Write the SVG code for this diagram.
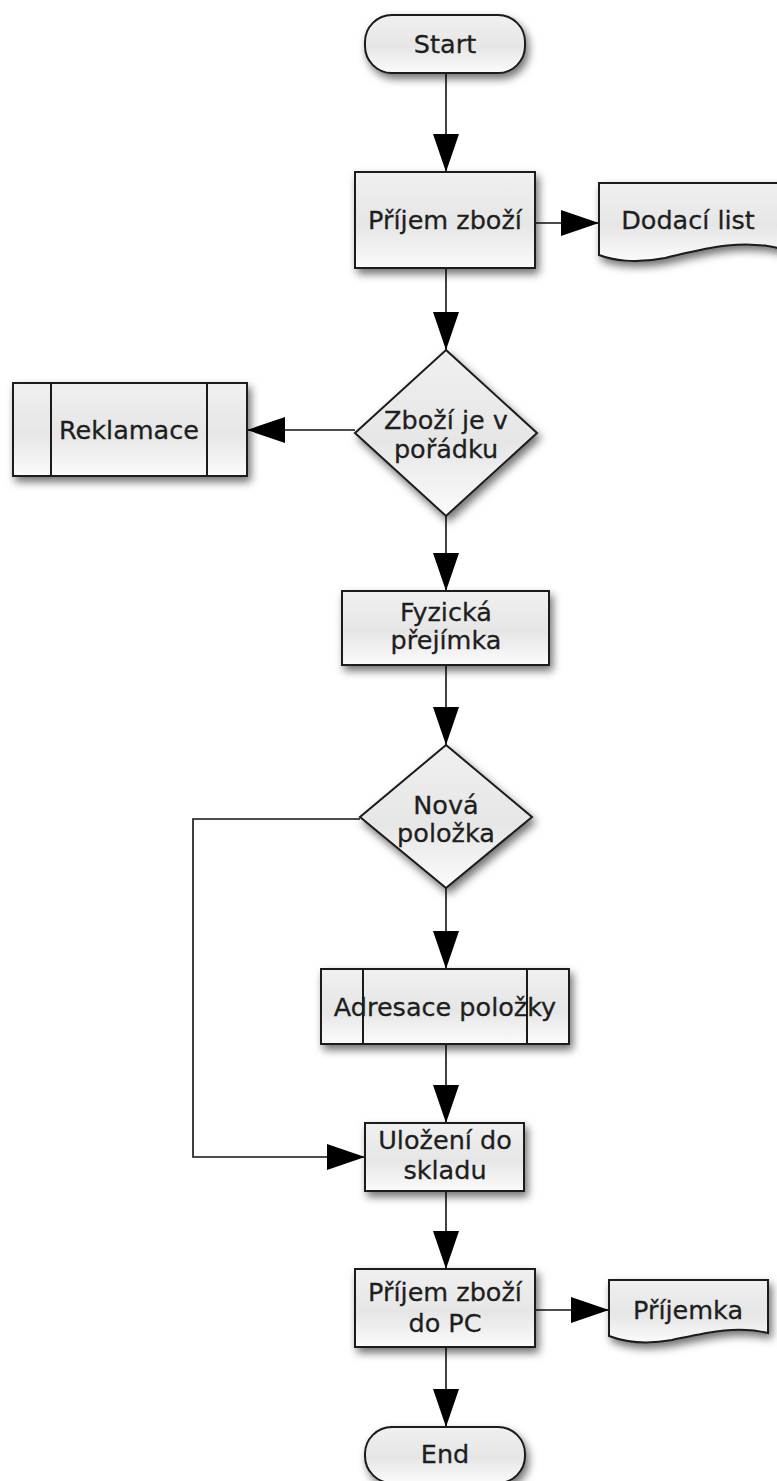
<svg xmlns="http://www.w3.org/2000/svg" width="777" height="1481" viewBox="0 0 777 1481">
  <style>
    .shape { fill: url(#fillGrad); stroke: #1a1a1a; stroke-width: 2; filter: url(#shadow); }
    .inner { stroke: #1a1a1a; stroke-width: 2; fill: none; }
    .label { font-family: "DejaVu Sans", "Noto Sans", sans-serif; font-size: 25.5px; fill: #1e1e1e; stroke: #1e1e1e; stroke-width: 0.3; text-anchor: middle; }
    .conn { stroke: #111; stroke-width: 1.6; fill: none; }
    .conn-arrow { marker-end: url(#arrow); }
  </style>
  <defs>
    <linearGradient id="fillGrad" x1="0" y1="0" x2="0" y2="1">
      <stop offset="0" stop-color="#f0f0f0"/>
      <stop offset="0.55" stop-color="#e6e6e6"/>
      <stop offset="1" stop-color="#fbfbfb"/>
    </linearGradient>
    <filter id="shadow" x="-20%" y="-20%" width="140%" height="150%">
      <feDropShadow dx="3" dy="5" stdDeviation="4" flood-color="#000" flood-opacity="0.55"/>
    </filter>
    <marker id="arrow" viewBox="0 0 38 26" refX="38" refY="13" markerWidth="38" markerHeight="26" markerUnits="userSpaceOnUse" orient="auto">
      <path d="M0,0 L38,13 L0,26 Z" fill="#000"/>
    </marker>
  </defs>

  <!-- connectors -->
  <g id="connectors">
    <path class="conn conn-arrow" d="M446,73 V172"/>
    <path class="conn conn-arrow" d="M535,223 H599"/>
    <path class="conn conn-arrow" d="M446,268 V350"/>
    <path class="conn conn-arrow" d="M355,430 H247"/>
    <path class="conn conn-arrow" d="M446,516 V591"/>
    <path class="conn conn-arrow" d="M446,665 V745"/>
    <path class="conn conn-arrow" d="M446,888 V969"/>
    <path class="conn conn-arrow" d="M360,819 H193 V1157 H365"/>
    <path class="conn conn-arrow" d="M446,1044 V1123"/>
    <path class="conn conn-arrow" d="M446,1191 V1269"/>
    <path class="conn conn-arrow" d="M535,1310 H609"/>
    <path class="conn conn-arrow" d="M446,1347 V1427"/>
  </g>

  <!-- start terminal -->
  <g id="start">
    <rect class="shape" x="365" y="15" width="160" height="58" rx="27" ry="27"/>
    <text class="label" x="445" y="53">Start</text>
  </g>

  <g id="prijem-zbozi">
    <rect class="shape" x="355" y="172" width="180" height="96"/>
    <text class="label" x="445" y="229">Příjem zboží</text>
  </g>

  <g id="dodaci-list">
    <path class="shape" d="M599,183 H782 V249 C740,238 700,250 665,258 C635,264 612,260 599,255 Z"/>
    <text class="label" x="688" y="229">Dodací list</text>
  </g>

  <g id="zbozi-v-poradku">
    <path class="shape" d="M446,350 L537,433 L446,516 L355,433 Z"/>
    <text class="label" x="446" y="429">Zboží je v</text>
    <text class="label" x="446" y="458">pořádku</text>
  </g>

  <g id="reklamace">
    <rect class="shape" x="13" y="383" width="234" height="93"/>
    <line class="inner" x1="51" y1="383" x2="51" y2="476"/>
    <line class="inner" x1="207" y1="383" x2="207" y2="476"/>
    <text class="label" x="129" y="439">Reklamace</text>
  </g>

  <g id="fyzicka-prejimka">
    <rect class="shape" x="342" y="591" width="207" height="74"/>
    <text class="label" x="446" y="621">Fyzická</text>
    <text class="label" x="446" y="649">přejímka</text>
  </g>

  <g id="nova-polozka">
    <path class="shape" d="M446,745 L532,817 L446,888 L360,817 Z"/>
    <text class="label" x="446" y="814">Nová</text>
    <text class="label" x="446" y="842">položka</text>
  </g>

  <g id="adresace-polozky">
    <rect class="shape" x="321" y="969" width="248" height="75"/>
    <line class="inner" x1="363" y1="969" x2="363" y2="1044"/>
    <line class="inner" x1="527" y1="969" x2="527" y2="1044"/>
    <text class="label" x="445" y="1016">Adresace položky</text>
  </g>

  <g id="ulozeni-do-skladu">
    <rect class="shape" x="365" y="1123" width="159" height="68"/>
    <text class="label" x="445" y="1149">Uložení do</text>
    <text class="label" x="445" y="1179">skladu</text>
  </g>

  <g id="prijem-do-pc">
    <rect class="shape" x="355" y="1269" width="180" height="78"/>
    <text class="label" x="445" y="1301">Příjem zboží</text>
    <text class="label" x="445" y="1332">do PC</text>
  </g>

  <g id="prijemka">
    <path class="shape" d="M609,1280 H768 V1333 C735,1325 705,1333 672,1340 C645,1345 625,1342 609,1336 Z"/>
    <text class="label" x="688" y="1319">Příjemka</text>
  </g>

  <!-- end terminal -->
  <g id="end">
    <rect class="shape" x="365" y="1427" width="160" height="56" rx="27" ry="27"/>
    <text class="label" x="445" y="1463">End</text>
  </g>
</svg>
